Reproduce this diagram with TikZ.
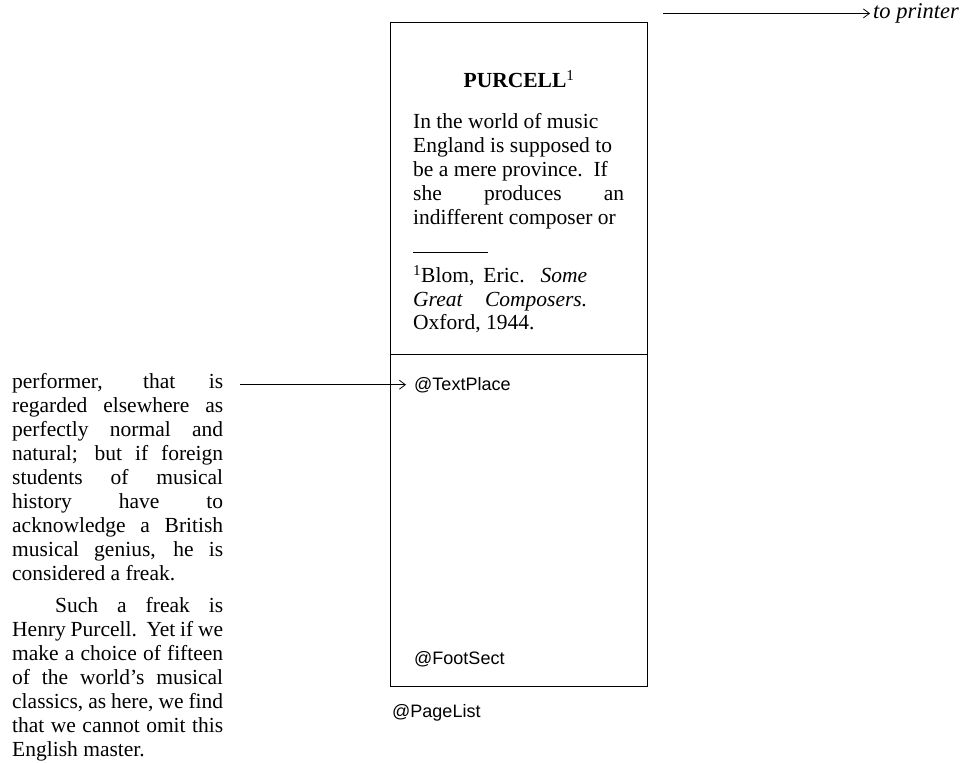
\documentclass[tikz,border=0pt]{standalone}
\usepackage{fontspec}
\setmainfont{Liberation Serif}
\setsansfont{Liberation Sans}
\usetikzlibrary{positioning,arrows.meta}

\begin{document}
\begin{tikzpicture}[x=1pt,y=-1pt,
    every node/.style={inner sep=0pt},
    galley/.style={font=\fontsize{21.5}{24}\selectfont},
    column/.style={galley,anchor=north west,text width=211pt,align=justify},
    sect/.style={draw,line width=0.8pt,outer sep=0pt,minimum width=257pt,minimum height=332pt},
    tag/.style={font=\fontsize{18}{21}\sffamily,anchor=base west,inner sep=3pt},
    flow/.style={line width=0.8pt,-{Straight Barb[length=6pt,width=9pt]}}]

\useasboundingbox (0,0) rectangle (965,762);

% the page and its two sections
\node[sect,anchor=north west] (upper) at (390,22) {};
\node[sect,below=0pt of upper] (lower) {};

% text already set on the page
\node[galley,anchor=base] (title) at (519,88) {\textbf{PURCELL}\textsuperscript{1}};
\node[galley,anchor=north west,align=left] (opening) at (413,111.2) {\strut In the world of music\\
    England is supposed to\\
    be a mere province.\ \ If\\
    \makebox[211pt][s]{she produces an}\\
    indifferent composer or};
\node[galley,anchor=north west,align=left,font=\fontsize{21.5}{23.3}\selectfont] (note) at (413,265.2)
    {\strut\makebox[174pt][s]{\textsuperscript{1}Blom, Eric. \textit{Some}}\\
    \makebox[174pt][s]{\textit{Great Composers.}}\\
    Oxford, 1944.};
\draw[line width=0.8pt] ([yshift=13pt]note.north west) -- +(75,0);

% the galley still waiting to flow in
\node[column] (galley) at (12,371.2) {\tolerance=10000\hbadness=10000\strut
    performer, that is\linebreak regarded elsewhere as\linebreak
    perfectly normal and\linebreak natural; but if foreign\linebreak
    students of musical\linebreak history have to\linebreak
    acknowledge a British\linebreak musical genius, he is\linebreak
    considered a freak.\par\vspace{8pt}
    \hspace*{2em}Such a freak is\linebreak Henry Purcell.\ \ Yet if we\linebreak
    make a choice of fifteen\linebreak of the world's musical\linebreak
    classics, as here, we find\linebreak that we cannot omit this\linebreak
    English master.};

% receptive symbols
\node[tag] (textplace) at (411,390) {@TextPlace};
\node[tag] (footsect) at (411,664) {@FootSect};
\node[tag] (pagelist) at (389,717) {@PageList};
\node[anchor=base west,inner sep=3pt,font=\fontsize{22.5}{26}\itshape] (printer) at (870,18.5) {to printer};

\coordinate (flowend) at (240,386);
\coordinate (shipout) at (663,15);
\draw[flow,shorten >=5pt] (flowend |- textplace.west) -- (textplace.west);
\draw[flow] (shipout |- printer.west) -- (printer.west);

\end{tikzpicture}
\end{document}
